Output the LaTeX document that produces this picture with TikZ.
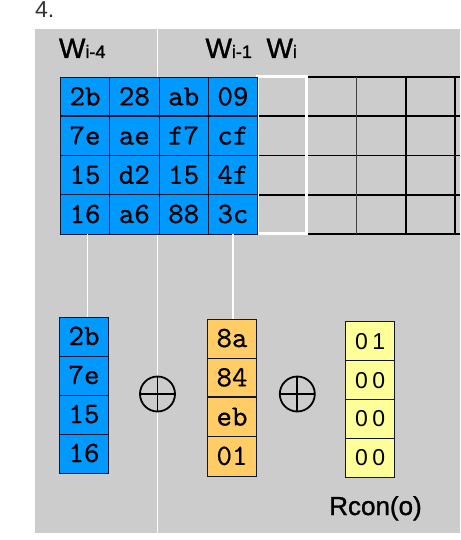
\documentclass[tikz,border=0pt]{standalone}
\usepackage{fontspec}
\setmainfont{Liberation Sans}
\newfontfamily\medsans[FakeBold=1.2]{Liberation Sans}
\newfontfamily\monof{lmmono10-regular}[Extension=.otf, FakeBold=0.5]
\definecolor{panelgray}{HTML}{CCCCCC}
\definecolor{cellblue}{HTML}{0099FF}
\definecolor{cellorange}{HTML}{FFCC66}
\definecolor{cellyellow}{HTML}{FFFF99}
\definecolor{gridline}{HTML}{101830}
\definecolor{numgray}{HTML}{333333}
\begin{document}
\begin{tikzpicture}[x=1pt,y=-1pt,
  cell/.style={draw=gridline, line width=0.9pt, minimum width=49.3pt, minimum height=39.2pt,
    inner sep=0pt, outer sep=0pt, text height=17pt, text depth=0pt,
    font=\monof\fontsize{29.5}{29.5}\selectfont},
  bluecell/.style={cell, fill=cellblue},
  orangecell/.style={cell, fill=cellorange},
  yellowcell/.style={cell, fill=cellyellow, text height=16pt, font=\rmfamily\fontsize{23}{23}\selectfont},
  wline/.style={white, line width=1.2pt},
  thickrule/.style={gridline, line width=2pt},
  blackrule/.style={black, line width=2pt},
  thinrule/.style={black, line width=1.2pt},
  oplus/.style={circle, draw=black, line width=1.8pt, minimum size=35pt, inner sep=0pt,
    path picture={\draw[black, line width=1.8pt]
      (path picture bounding box.north) -- (path picture bounding box.south)
      (path picture bounding box.west) -- (path picture bounding box.east);}},
  lbl/.style={anchor=base west, inner sep=0pt, outer sep=0pt}
]
\useasboundingbox (0,0) rectangle (460,540);
\node[lbl, text=numgray, font=\fontsize{23}{23}\selectfont] (num) at (35,18) {4.};
\fill[panelgray] (35,29) rectangle (460,533);
\draw[white, line width=1.5pt] (157.5,29) -- (157.5,533);

% labels
\node[lbl] (lw4) at (59,58) {\medsans\fontsize{28}{28}\selectfont W\fontsize{18}{18}\selectfont i-4};
\node[lbl] (lw1) at (205.5,58) {\medsans\fontsize{28}{28}\selectfont W\fontsize{18}{18}\selectfont i-1};
\node[lbl] (lwi) at (266.5,58) {\medsans\fontsize{28}{28}\selectfont W\fontsize{18}{18}\selectfont i};

% right gray grid
\draw[blackrule] (256,77.3) -- (460,77.3);
\draw[blackrule] (256,116.5) -- (460,116.5);
\draw[thinrule] (256,155.7) -- (460,155.7);
\draw[thinrule] (256,194.9) -- (460,194.9);
\draw[blackrule] (256,234.1) -- (460,234.1);
\draw[black!75, line width=1pt] (356.3,77.3) -- (356.3,234.1);
\draw[blackrule] (405.6,77.3) -- (405.6,234.1);
\draw[blackrule] (454.9,77.3) -- (454.9,234.1);
\draw[white, line width=3pt] (257.6,76.4) rectangle (306.4,233.4);

% blue state grid
\node[bluecell] (w11) at (85.05,96.9) {2b};
\node[bluecell] (w12) at (134.35,96.9) {28};
\node[bluecell] (w13) at (183.65,96.9) {ab};
\node[bluecell] (w14) at (232.95,96.9) {09};
\node[bluecell] (w21) at (85.05,136.1) {7e};
\node[bluecell] (w22) at (134.35,136.1) {ae};
\node[bluecell] (w23) at (183.65,136.1) {f7};
\node[bluecell] (w24) at (232.95,136.1) {cf};
\node[bluecell] (w31) at (85.05,175.3) {15};
\node[bluecell] (w32) at (134.35,175.3) {d2};
\node[bluecell] (w33) at (183.65,175.3) {15};
\node[bluecell] (w34) at (232.95,175.3) {4f};
\node[bluecell] (w41) at (85.05,214.5) {16};
\node[bluecell] (w42) at (134.35,214.5) {a6};
\node[bluecell] (w43) at (183.65,214.5) {88};
\node[bluecell] (w44) at (232.95,214.5) {3c};
\draw[thickrule] (w21.north west) -- (w24.north east);

% lower columns
\node[bluecell, minimum width=49.4pt, minimum height=39pt] (c1) at (84,336.5) {2b};
\node[bluecell, minimum width=49.4pt, minimum height=39pt] (c2) at (84,375.5) {7e};
\node[bluecell, minimum width=49.4pt, minimum height=39pt] (c3) at (84,414.5) {15};
\node[bluecell, minimum width=49.4pt, minimum height=39pt] (c4) at (84,453.5) {16};

\node[orangecell, minimum width=49.4pt, minimum height=39.25pt] (o1) at (232,338.6) {8a};
\node[orangecell, minimum width=49.4pt, minimum height=39.25pt] (o2) at (232,377.9) {84};
\node[orangecell, minimum width=49.4pt, minimum height=39.25pt] (o3) at (232,417.1) {eb};
\node[orangecell, minimum width=49.4pt, minimum height=39.25pt] (o4) at (232,456.4) {01};
\draw[thickrule] (o3.north west) -- (o3.north east);

\node[yellowcell, minimum width=49pt, minimum height=38.9pt] (y1) at (370.2,341.15) {0\kern4.5pt1};
\node[yellowcell, minimum width=49pt, minimum height=38.9pt] (y2) at (370.2,380.05) {0\kern4.5pt0};
\node[yellowcell, minimum width=49pt, minimum height=38.9pt] (y3) at (370.2,418.95) {0\kern4.5pt0};
\node[yellowcell, minimum width=49pt, minimum height=38.9pt] (y4) at (370.2,457.85) {0\kern4.5pt0};

% connectors
\draw[wline] ([xshift=2.3pt]w41.south) -- ([xshift=2.3pt]w41.south |- c1.north);
\draw[wline] (w44.south) -- (w44.south |- o1.north);

% xor symbols
\node[oplus] (x1) at (157.5,394) {};
\node[oplus] (x2) at (297.3,394) {};

\node[anchor=base, inner sep=0pt, font=\medsans\fontsize{26}{26}\selectfont] (rcon) at (375.5,515) {Rcon(o)};
\end{tikzpicture}
\end{document}
